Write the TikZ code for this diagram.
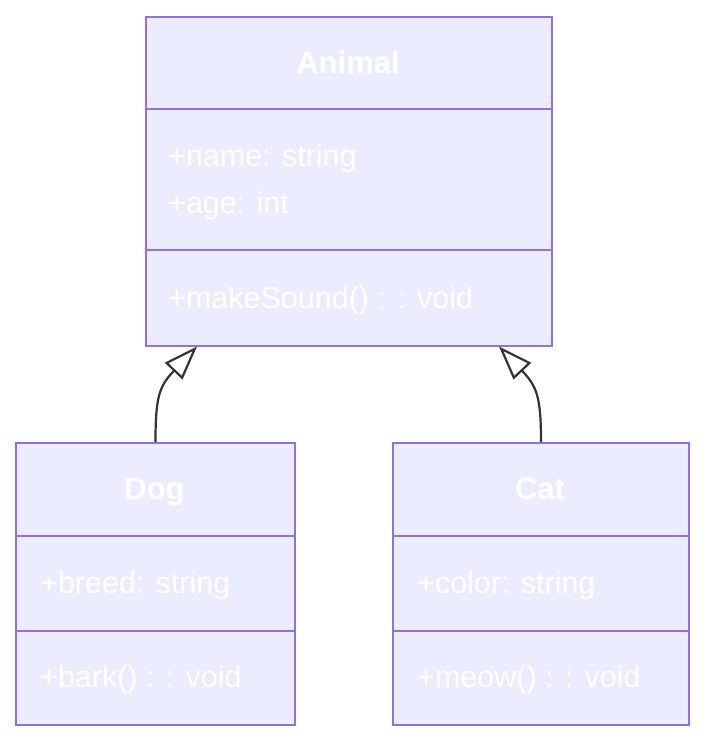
\documentclass[tikz,border=0pt]{standalone}
\usepackage{fontspec}
\setmainfont{Liberation Sans}
\usepackage{tikz}
\usetikzlibrary{arrows.meta, positioning}
\definecolor{classfill}{HTML}{ECECFF}
\definecolor{classline}{HTML}{9370DB}
\definecolor{edgeline}{HTML}{333333}
\begin{document}
\begin{tikzpicture}[x=1pt, y=1pt,
        classbox/.style={draw=classline, fill=classfill, line width=2pt, inner sep=0pt, anchor=north west},
        divider/.style={draw=classline, line width=2pt},
        classname/.style={text=white, font=\fontsize{31}{37}\selectfont\bfseries, inner sep=0pt, anchor=base},
        member/.style={text=white, font=\fontsize{30.5}{37}\selectfont, inner sep=0pt, anchor=base west},
        inherit/.style={draw=edgeline, line width=2.2pt, -{Triangle[open, length=34pt, width=24pt, line width=2.2pt]}}]
            \fill[white] (0,0) rectangle (720,-756);
            \useasboundingbox (0,0) rectangle (720,-756);
            \node[classbox, minimum width=406pt, minimum height=329pt] (animal) at (145,-15.5) {};
            \draw[divider] (145,-109) -- (551,-109);
            \draw[divider] (145,-250) -- (551,-250);
            \node[classname] (animalname) at (348,-73) {Animal};
            \node[member] (animalattr) at (168,-166) {+name: string};
            \node[member] (animalage) at (168,-213) {+age: int};
            \node[member] (animalsound) at (168,-308) {+makeSound() : : void};

            \node[classbox, minimum width=279pt, minimum height=282pt] (dog) at (15,-442) {};
            \draw[divider] (15,-536) -- (294,-536);
            \draw[divider] (15,-631) -- (294,-631);
            \node[classname] (dogname) at (154.5,-499.5) {Dog};
            \node[member] (dogbreed) at (40,-593) {+breed: string};
            \node[member] (dogbark) at (40,-687) {+bark() : : void};

            \node[classbox, minimum width=296pt, minimum height=282pt] (cat) at (392,-442) {};
            \draw[divider] (392,-536) -- (688,-536);
            \draw[divider] (392,-631) -- (688,-631);
            \node[classname] (catname) at (540,-499.5) {Cat};
            \node[member] (catcolor) at (417,-593) {+color: string};
            \node[member] (catmeow) at (417,-687) {+meow() : : void};

            \draw[inherit] (dog.north) .. controls +(0,45) and +(-38,-40) .. ([xshift=52pt]animal.south west);
            \draw[inherit] (cat.north) .. controls +(0,45) and +(38,-40) .. ([xshift=-54pt]animal.south east);
        \end{tikzpicture}
\end{document}
